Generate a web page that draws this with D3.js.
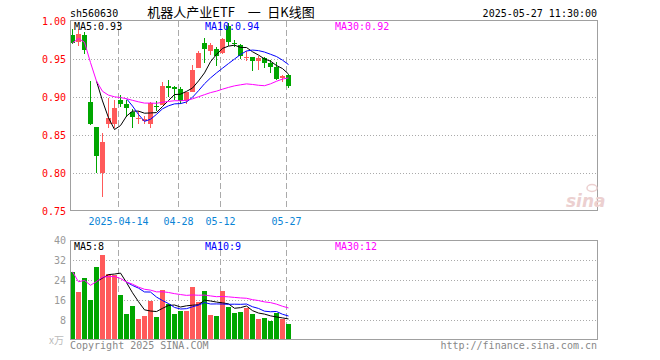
<!DOCTYPE html>
<html>
<head>
<meta charset="utf-8">
<script src="https://cdn.jsdelivr.net/npm/d3@7"></script>
<style>
  body { margin: 0; background: #fff; }
  svg { display: block; }
  text { font-family: "DejaVu Sans Mono", monospace; font-size: 10px; }
</style>
</head>
<body>
<svg id="chart" width="660" height="360"></svg>
<script>
// 日期 (2025-04-01 ~ 2025-05-27)
const dates = ["04-01","04-02","04-03","04-07","04-08","04-09","04-10","04-11","04-14","04-15",
  "04-16","04-17","04-18","04-21","04-22","04-23","04-24","04-25","04-28","04-29",
  "04-30","05-06","05-07","05-08","05-09","05-12","05-13","05-14","05-15","05-16",
  "05-19","05-20","05-21","05-22","05-23","05-26","05-27"];
const opens  = [0.982,0.973,0.981,0.894,0.860,0.800,0.864,0.865,0.896,0.891,0.880,0.8705,0.8685,0.864,0.8885,0.890,0.9147,0.913,0.9105,0.895,0.907,0.9385,0.9717,0.960,0.9628,0.958,0.9934,0.9706,0.969,0.9525,0.9526,0.9475,0.9515,0.9445,0.940,0.9247,0.9295];
const highs  = [0.990,0.9895,0.9855,0.9205,0.860,0.853,0.899,0.8955,0.903,0.896,0.8837,0.881,0.875,0.8938,0.8942,0.920,0.922,0.914,0.9135,0.907,0.9416,0.9605,0.978,0.9714,0.966,0.978,0.9975,0.975,0.970,0.9605,0.9527,0.9535,0.952,0.949,0.9455,0.9295,0.9307];
const lows   = [0.970,0.9666,0.957,0.8636,0.800,0.769,0.8596,0.8587,0.887,0.874,0.8587,0.865,0.864,0.8596,0.8815,0.889,0.9005,0.896,0.891,0.891,0.906,0.9376,0.945,0.9555,0.9405,0.957,0.967,0.966,0.9495,0.9474,0.934,0.9355,0.9385,0.932,0.922,0.920,0.912];
const closes = [0.971,0.983,0.962,0.865,0.823,0.841,0.872,0.885,0.891,0.885,0.874,0.872,0.8715,0.8925,0.8875,0.914,0.9115,0.9105,0.895,0.906,0.936,0.958,0.9635,0.9685,0.954,0.9758,0.9728,0.9698,0.954,0.953,0.948,0.951,0.9445,0.9395,0.924,0.928,0.9148];
// 成交量 (万)
const volumes = [27.3,19.3,24.9,16.1,29.3,34.1,26.4,26,18,10.4,13.7,8.5,9.7,15.7,9.3,20.1,14.4,10.5,11.7,11.7,21.3,15.3,19.7,10,9.6,19.7,13.3,10.9,11.2,12.9,10.4,8.5,8.8,7.7,10.7,8.5,6.4];

const priceTicks = [1.00, 0.95, 0.90, 0.85, 0.80, 0.75];
const volTicks = [40, 32, 24, 16, 8];
const dateTicks = [{d: "04-14", label: "2025-04-14"}, {d: "04-28", label: "04-28"}, {d: "05-12", label: "05-12"}, {d: "05-27", label: "05-27"}];

const RED = "#ff5a5a", GREEN = "#00a600";
const GRID = "#aaaaaa";

const svg = d3.select("#chart");

// 横轴：整个框可放 88 根K线，实际只用前 37 根
const left = 70, right = 598;
const x = d3.scaleBand().domain(d3.range(88)).range([left, right]);
const bw = x.bandwidth();
const cx = i => x(i) + 2.5;

const yP = d3.scaleLinear().domain([0.75, 1.00]).range([211, 21]);
const yV = d3.scaleLinear().domain([0, 40]).range([340, 240]);

// 均线：MA5/MA10 要够数才画，MA30 前面用已有数据平均
function movingAvg(values, n, partial) {
    return values.map((v, i) => {
        if (i < n - 1 && !partial) return null;
        return d3.mean(values.slice(Math.max(0, i - n + 1), i + 1));
    });
}
const trunc = (v, k) => Math.floor(v * Math.pow(10, k) + 1e-9) / Math.pow(10, k);

// --- 顶部文字 ---
svg.append("text").attr("x", 70).attr("y", 16.5).attr("fill", "#000").text("sh560630");
svg.append("text").attr("x", 231).attr("y", 17).attr("text-anchor", "middle")
    .style("font-family", "'Noto Sans CJK SC', sans-serif").style("font-size", "13px")
    .attr("fill", "#000").text("机器人产业ETF\u3000一\u2002日K线图");
svg.append("text").attr("x", 597).attr("y", 16.5).attr("text-anchor", "end").attr("fill", "#000")
    .text("2025-05-27 11:30:00");

// --- 网格 ---
const g = svg.append("g").attr("shape-rendering", "crispEdges");

g.selectAll(".hgrid").data(priceTicks.slice(1, -1)).enter().append("line")
    .attr("x1", left).attr("x2", 597).attr("y1", d => Math.round(yP(d)) + 0.5).attr("y2", d => Math.round(yP(d)) + 0.5)
    .attr("stroke", GRID).attr("stroke-dasharray", "1,2");
g.selectAll(".vhgrid").data(volTicks.slice(1)).enter().append("line")
    .attr("x1", left).attr("x2", 597).attr("y1", d => Math.round(yV(d)) + 0.5).attr("y2", d => Math.round(yV(d)) + 0.5)
    .attr("stroke", GRID).attr("stroke-dasharray", "1,2");

dateTicks.forEach(t => {
    const xi = x(dates.indexOf(t.d)) + 0.5;
    g.append("line").attr("x1", xi).attr("x2", xi).attr("y1", 21).attr("y2", 211)
        .attr("stroke", GRID).attr("stroke-dasharray", "6,3");
    g.append("line").attr("x1", xi).attr("x2", xi).attr("y1", 241).attr("y2", 340)
        .attr("stroke", GRID).attr("stroke-dasharray", "6,3");
    svg.append("text").attr("x", xi).attr("y", 225).attr("text-anchor", "middle")
        .attr("fill", "#0a84d6").text(t.label);
});

// --- K线 ---
const candles = g.selectAll(".candle").data(dates).enter().append("g");
candles.append("rect")
    .attr("x", (d, i) => cx(i) - 0.5).attr("width", 1)
    .attr("y", (d, i) => Math.round(yP(highs[i])))
    .attr("height", (d, i) => Math.max(1, Math.round(yP(lows[i])) - Math.round(yP(highs[i]))))
    .attr("fill", (d, i) => closes[i] >= opens[i] ? RED : GREEN);
candles.append("rect")
    .attr("x", (d, i) => x(i)).attr("width", bw - 1)
    .attr("y", (d, i) => Math.round(yP(Math.max(opens[i], closes[i]))))
    .attr("height", (d, i) => Math.max(1, Math.round(yP(Math.min(opens[i], closes[i]))) - Math.round(yP(Math.max(opens[i], closes[i])))))
    .attr("fill", (d, i) => closes[i] >= opens[i] ? RED : GREEN);

// --- 成交量柱 ---
g.selectAll(".vol").data(volumes).enter().append("rect")
    .attr("x", (d, i) => x(i)).attr("width", bw - 1)
    .attr("y", d => Math.round(yV(d))).attr("height", d => 340 - Math.round(yV(d)))
    .attr("fill", (d, i) => closes[i] >= opens[i] ? RED : GREEN);

// --- 均线 ---
const maDefs = [{n: 5, color: "#000000", partial: false}, {n: 10, color: "#0000ff", partial: false}, {n: 30, color: "#ff00ff", partial: true}];
const priceMA = maDefs.map(m => movingAvg(closes, m.n, m.partial));
const volMA = maDefs.map(m => movingAvg(volumes, m.n, m.partial));

maDefs.forEach((m, k) => {
    const lineP = d3.line().defined(d => d != null).x((d, i) => cx(i)).y(d => yP(d));
    svg.append("path").datum(priceMA[k]).attr("d", lineP)
        .attr("fill", "none").attr("stroke", m.color).attr("stroke-width", 1);
    const lineV = d3.line().defined(d => d != null).x((d, i) => cx(i)).y(d => yV(d));
    svg.append("path").datum(volMA[k]).attr("d", lineV)
        .attr("fill", "none").attr("stroke", m.color).attr("stroke-width", 1);
});

// --- 边框 ---
g.append("rect").attr("x", left + 0.5).attr("y", 20.5).attr("width", 527).attr("height", 190)
    .attr("fill", "none").attr("stroke", "#a0a0a0");
g.append("rect").attr("x", left + 0.5).attr("y", 240.5).attr("width", 527).attr("height", 99)
    .attr("fill", "none").attr("stroke", "#a0a0a0");

// --- 均线标签 ---
const labelX = [74, 205, 335];
maDefs.forEach((m, k) => {
    const pv = priceMA[k][closes.length - 1];
    const vv = volMA[k][volumes.length - 1];
    svg.append("text").attr("x", labelX[k]).attr("y", 29.5).attr("fill", m.color)
        .text(`MA${m.n}:${trunc(pv, 2).toFixed(2)}`);
    svg.append("text").attr("x", labelX[k]).attr("y", 250).attr("fill", m.color)
        .text(`MA${m.n}:${Math.floor(vv)}`);
});

// --- 纵轴刻度 ---
svg.selectAll(".pt").data(priceTicks).enter().append("text")
    .attr("x", 66).attr("y", d => yP(d) + 3.5).attr("text-anchor", "end")
    .attr("fill", "#ff0000").text(d => d.toFixed(2));
svg.selectAll(".vt").data(volTicks).enter().append("text")
    .attr("x", 66).attr("y", d => yV(d) + 3.5).attr("text-anchor", "end")
    .attr("fill", "#999999").text(d => d);
svg.append("text").attr("x", 49).attr("y", 344).attr("fill", "#bbbbbb")
    .style("font-family", "'Noto Sans CJK SC', sans-serif").text("x万");

// --- 底部文字 / 水印 ---
svg.append("text").attr("x", 70).attr("y", 349).attr("fill", "#888888").text("Copyright 2025 SINA.COM");
svg.append("text").attr("x", 597).attr("y", 349).attr("text-anchor", "end").attr("fill", "#888888")
    .text("http://finance.sina.com.cn");
svg.append("text").attr("x", 566).attr("y", 207)
    .style("font-family", "'DejaVu Sans', sans-serif").style("font-size", "17px")
    .style("font-weight", "bold").style("font-style", "italic")
    .attr("fill", "#ecd0d0").text("sina");
svg.append("ellipse").attr("cx", 592).attr("cy", 188).attr("rx", 5).attr("ry", 3.5)
    .attr("fill", "none").attr("stroke", "#ecd0d0").attr("stroke-width", 1.5);
</script>
</body>
</html>
